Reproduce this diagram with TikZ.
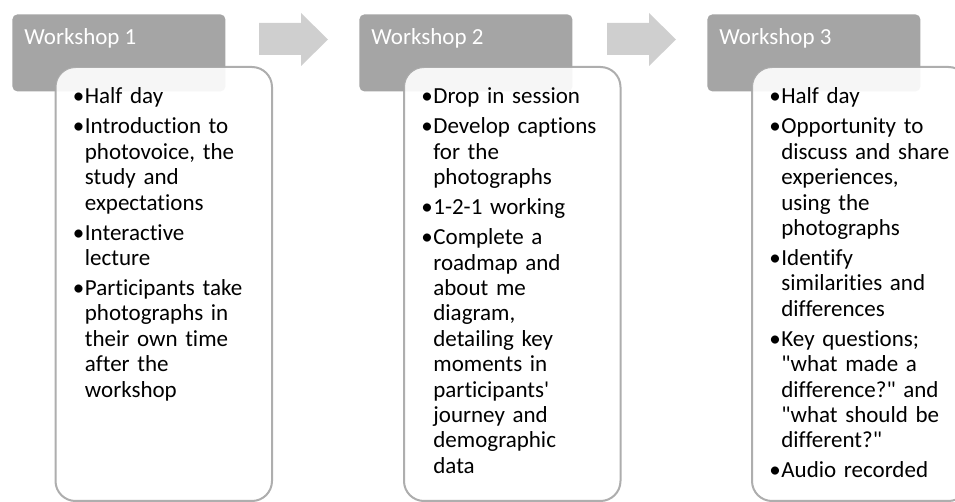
\documentclass[tikz,border=0pt]{standalone}
\usepackage{fontspec}
\setmainfont{Carlito}[Ligatures={TeXOff,NoCommon}]
\definecolor{wsgray}{HTML}{A5A5A5}
\definecolor{wsarrow}{HTML}{CFCFCF}
% one bullet with a hanging indent
\newcommand{\wsitem}[1]{\hangindent=6pt\hangafter=1\noindent\makebox[6pt][l]{•}#1\par}

\begin{document}
\begin{tikzpicture}[x=0.5pt, y=-0.5pt,
    head/.style={rectangle, rounded corners=2.5pt, fill=wsgray, minimum width=106.5pt,
      minimum height=38.5pt, inner sep=0pt, anchor=north west},
    body/.style={rectangle, rounded corners=10pt, draw=wsgray, line width=1pt, fill=white,
      opacity=0.9, minimum width=108.25pt, minimum height=217pt, inner sep=0pt, anchor=north west},
    headtext/.style={anchor=base west, text=white, inner sep=0pt,
      font=\fontsize{11.5pt}{13pt}\selectfont},
    bodytext/.style={anchor=base west, text width=96pt, inner sep=0pt,
      font=\fontsize{11.5pt}{12.7pt}\selectfont,
      execute at begin node={\setlength{\parskip}{2.3pt}}},
    blockarrow/.style={fill=wsarrow}]
  \useasboundingbox (0,0) rectangle (955,502);
  \clip (0,0) rectangle (955,502);

  \node[head] (h1) at (12,14) {};
  \node[head] (h2) at (359,14) {};
  \node[head] (h3) at (707,14) {};

  \node[body] (b1) at (54.5,66) {};
  \node[body] (b2) at (403,66) {};
  \node[body] (b3) at (751,66) {};

  \node[headtext] (l1) at ([xshift=6pt, yshift=-15.5pt]h1.north west) {Workshop 1};
  \node[headtext] (l2) at ([xshift=6pt, yshift=-15.5pt]h2.north west) {Workshop 2};
  \node[headtext] (l3) at ([xshift=6pt, yshift=-15.5pt]h3.north west) {Workshop 3};

  \fill[blockarrow] (259,23) -- (301,23) -- (301,13) -- (328,39.5) -- (301,66) -- (301,55) -- (259,55) -- cycle;
  \fill[blockarrow] (607,23) -- (649,23) -- (649,13) -- (676,39.5) -- (649,66) -- (649,55) -- (607,55) -- cycle;

  \node[bodytext] (t1) at ([xshift=9pt, yshift=-19pt]b1.north west) {%
    \wsitem{Half day}
    \wsitem{Introduction to\newline photovoice, the\newline study and\newline expectations}
    \wsitem{Interactive\newline lecture}
    \wsitem{Participants take\newline photographs in\newline their own time\newline after the\newline workshop}};
  \node[bodytext] (t2) at ([xshift=9pt, yshift=-19pt]b2.north west) {%
    \wsitem{Drop in session}
    \wsitem{Develop captions\newline for the\newline photographs}
    \wsitem{1-2-1 working}
    \wsitem{Complete a\newline roadmap and\newline about me\newline diagram,\newline detailing key\newline moments in\newline participants'\newline journey and\newline demographic\newline data}};
  \node[bodytext] (t3) at ([xshift=9pt, yshift=-19pt]b3.north west) {%
    \wsitem{Half day}
    \wsitem{Opportunity to\newline discuss and share\newline experiences,\newline using the\newline photographs}
    \wsitem{Identify\newline similarities and\newline differences}
    \wsitem{Key questions;\newline "what made a\newline difference?" and\newline "what should be\newline different?"}
    \wsitem{Audio recorded}};
\end{tikzpicture}
\end{document}
